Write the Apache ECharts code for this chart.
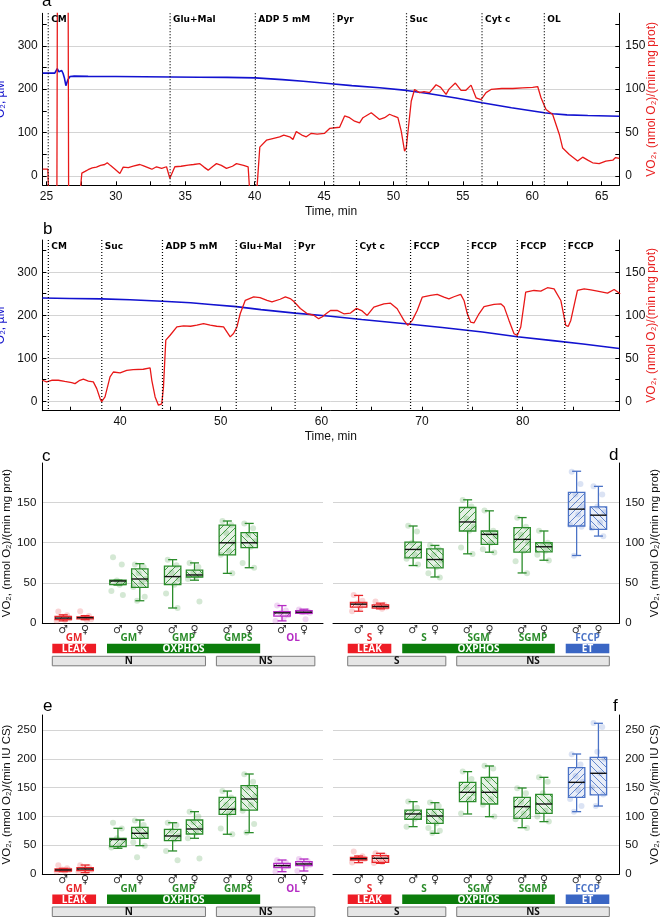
<!DOCTYPE html>
<html><head><meta charset="utf-8"><title>Respirometry</title>
<script src="https://cdn.jsdelivr.net/npm/echarts@6.0.0/dist/echarts.min.js"></script>
<style>html,body{margin:0;padding:0;background:#fff;}#chart{width:660px;height:917px;}</style>
</head><body><div id="chart"></div>
<script>
// ---------------- Panel a : trace ----------------
const aEventTimes = [25.13, 33.91, 40.05, 45.69, 50.94, 56.38, 60.87];
const aEventLabels = ['CM', 'Glu+Mal', 'ADP 5 mM', 'Pyr', 'Suc', 'Cyt c', 'OL'];
const aO2 = [[24.73,237],[25.6,237],[25.78,247],[25.9,240],[26.0,238],[26.1,243],[26.2,236],[26.3,225],[26.4,208],[26.55,222],[26.7,229],[27.0,230],[28,229.5],[30,229],[32,228.5],[34,228],[36,227.5],[38,227],[40.05,226],[42,222],[43.5,218],[45.3,213],[47,208],[49,203],[50.94,197],[52.5,190],[54.5,179.5],[56.38,168.5],[58.5,157],[60.87,145.5],[61.5,143],[62.5,140.5],[64,139],[66.27,137.5]];
const aVO2 = [[24.73,7.7],[25.1,7.7],[25.2,-40],[25.75,-40],[25.8,300],[26.55,300],[26.6,-40],[27.3,-40],[27.55,3],[27.78,5],[28.0,7],[28.3,9],[28.6,10],[28.9,12],[29.2,13],[29.38,15],[29.6,12],[29.9,8],[30.29,2.7],[30.53,10],[30.9,9.5],[31.25,11],[31.73,13],[32.0,11.5],[32.45,8.5],[32.6,7.5],[32.93,10.4],[33.3,8.5],[33.65,10.4],[33.89,-3],[34.25,10.4],[34.7,11],[35.21,12.3],[35.6,13],[36.05,14],[36.35,10],[36.65,6.5],[37.0,11],[37.25,14],[37.6,12],[37.97,8.5],[38.4,11],[38.69,14],[39.2,12],[39.53,10.4],[39.69,-30],[40.1,-30],[40.37,33],[40.85,41],[41.3,43],[41.8,45],[42.1,47],[42.52,45],[42.76,42],[43.0,51],[43.4,47],[43.72,45],[44.08,49],[44.5,48],[45.04,49],[45.4,54.6],[46.12,56],[46.48,69],[46.84,67],[47.2,63],[47.56,61],[47.8,67],[48.4,72.7],[49.0,65],[49.36,67],[49.72,71],[50.0,69],[50.32,67],[50.56,51.5],[50.8,28.5],[50.92,32],[51.28,86],[51.52,99.6],[51.87,96],[52.2,97],[52.6,96],[53.07,105],[53.4,102],[53.79,94],[54.0,100],[54.46,107],[54.87,98.5],[55.2,98.5],[55.59,104.6],[55.95,90],[56.31,88],[56.67,96],[57.03,99.6],[57.8,100.7],[58.59,100.7],[59.3,101.5],[60.03,102],[60.39,103],[60.63,90],[60.99,76.5],[61.47,70.8],[61.95,47.7],[62.19,32],[62.67,24.6],[63.27,17],[63.63,21.5],[64.0,18],[64.35,15],[64.82,14],[65.3,17],[65.8,18],[66.0,21],[66.27,20]];
const aTimeTicks = [25,27.5,30,32.5,35,37.5,40,42.5,45,47.5,50,52.5,55,57.5,60,62.5,65];
const aTimeLabels = [25,30,35,40,45,50,55,60,65];

// ---------------- Panel b : trace ----------------
const bEventTimes = [32.87, 38.18, 44.21, 51.54, 57.39, 63.49, 68.86, 74.56, 79.47, 84.18];
const bEventLabels = ['CM', 'Suc', 'ADP 5 mM', 'Glu+Mal', 'Pyr', 'Cyt c', 'FCCP', 'FCCP', 'FCCP', 'FCCP'];
const bO2 = [[32.27,240],[35,239],[38.17,238],[41,236],[44.21,232.5],[47,229],[49,225],[51.54,220],[54,213],[57.38,205],[60.9,197.7],[64,190],[68.86,179],[72,171.5],[76,161],[79.47,150],[83,141],[86,133],[89.6,122.5]];
const bVO2 = [[32.27,24.4],[32.7,22.5],[33.2,24.4],[33.86,24.4],[34.5,23],[35.19,21.7],[35.52,20.5],[36.0,24.4],[36.35,25.6],[36.85,23.5],[37.34,22.5],[37.68,14.7],[38.01,3.1],[38.17,-0.4],[38.5,5],[39.0,28.3],[39.33,34],[40.0,33],[40.66,36],[41.3,36.8],[42.3,37.2],[42.98,38.8],[43.15,24.4],[43.48,5],[43.81,-4.6],[44.14,-3],[44.31,16.7],[44.54,71],[44.97,76.7],[45.64,86.4],[46.3,87.6],[47.0,87.2],[47.63,88.4],[48.29,90.3],[48.95,88.4],[49.6,87.2],[50.28,86.4],[50.61,80.6],[50.94,74.8],[51.27,78.7],[51.61,86.4],[51.94,102],[52.44,117.4],[53.27,121.3],[53.9,120.5],[54.6,117.4],[55.09,115.5],[55.9,118.6],[56.42,121.3],[56.9,119.4],[57.24,116.3],[57.91,107.8],[58.57,102],[59.24,100],[59.73,96],[60.06,98],[60.56,102.7],[60.9,105.5],[61.56,105.6],[62.23,101.7],[62.89,102.5],[63.49,108],[64.05,105],[64.55,99.8],[65.21,109.5],[66.21,113.3],[66.87,114],[67.53,107.5],[68.2,94],[68.59,88.2],[69.03,94],[69.52,105.6],[70.02,121],[70.85,123],[71.51,124.2],[72.18,121],[72.67,119],[73.17,121.5],[73.84,124.2],[74.17,117.2],[74.5,101.7],[74.83,92],[75.16,91],[75.66,101.7],[76.16,110],[77.15,112.6],[77.82,113.3],[78.15,110],[78.64,94],[79.14,78.5],[79.47,76.6],[79.81,86.3],[80.3,126.9],[81.13,128.8],[81.8,128],[82.46,132],[83.12,130.7],[83.79,117.2],[84.28,88.2],[84.52,87],[84.78,94],[85.44,128.8],[86.11,130.7],[86.77,129.5],[87.43,128],[88.43,125.7],[89.09,130],[89.69,125]];
const bTimeTicks = [35,40,45,50,55,60,65,70,75,80,85];
const bTimeLabels = [40,50,60,70,80];

const o2Labels = [0,100,200,300];
const o2MinorTicks = [50,150,250,350];
const vo2Labels = [0,50,100,150];
const vo2Ticks = [0,25,50,75,100,125,150,175];

// ---------------- Box panels ----------------
const cGroups = ['GM','GM','GMP','GMPS','OL'];
const dGroups = ['S','S','SGM','SGMP','FCCP'];
const cStates = [['LEAK',1,1],['OXPHOS',2,4]];
const dStates = [['LEAK',1,1],['OXPHOS',2,4],['ET',5,5]];
const cPaths = [['N',1,3],['NS',4,5]];
const dPaths = [['S',1,2],['NS',3,5]];
const sexSymbols = ['♂','♀'];
const protLabels = [0,50,100,150];
const csLabels = [0,50,100,150,200,250];

// [min, Q1, median, Q3, max]
const cMale   = [[3,4.5,6.5,8.5,10.5],[47.5,48,52.5,53.5,53.5],[19,48,58,71,79],[62,85,100,122,127],[3,9,13,14.5,22]];
const cFemale = [[4.5,5.5,7,8,9.5],[28,44.5,55,67.5,74],[53.5,57.5,60,66,75],[69,94,100,112.5,124],[12,12.5,13.75,15.8,17.5]];
const dMale   = [[15,20,23.75,25.8,34.6],[71.7,81.25,91.7,100.8,120.8],[86.25,114.6,125.8,143.75,153.3],[62.5,88.3,104.2,118.75,131.25],[84.2,120.8,141.7,162.5,188.75]];
const dFemale = [[17.9,18.75,20.8,22.9,25],[57.5,68.75,79.2,92.5,96.7],[88.3,97.9,110.4,114.6,139.6],[78.3,88.75,95,100,114.6],[108.3,116.7,134.2,144.6,170]];
const eMale   = [[4,5.2,7,8.7,9.8],[44.6,47.5,60,62,79.3],[40,58,66,77.5,89],[69,103.6,112.3,133,144],[4,11,14.5,18.5,24.3]];
const eFemale = [[2.3,5.8,8.7,11,15.6],[49.2,62,70.6,81,93.75],[62,69.4,78.1,93.75,108.2],[71.8,111,130.2,153.4,173.6],[5.2,14.5,17.4,21.4,26]];
const fMale   = [[19.7,24.3,26.6,28.9,31.25],[82.2,95,104.2,111,125.6],[104.2,125.6,141.8,159.1,177.7],[80.4,96.6,116.9,133.1,149.3],[108.2,133.1,159.1,184.6,208.3]];
const fFemale = [[18.5,20.25,27.2,31.8,35.9],[70.6,88,100.7,112.3,123.8],[99.5,121.5,141.8,167.8,187.5],[90.9,105.3,121.5,138.3,167.8],[118,137.2,174.8,202.5,261.6]];

// individual observations
const cMalePts   = [[14.5,10,8,6,4,3],[82,73,53,50,48,40,35],[79,72,63,55,48,37,19],[127,122,112,100,90,85,62],[22,16,13,10,7,3]];
const cFemalePts = [[15,9,7,5,4],[73,70,62,55,50,45,33,28],[75,70,63,60,58,55,27],[124,118,110,102,95,75,69],[17,15,14,13,5]];
const dMalePts   = [[35,28,25,23,20,15],[121,114,100,93,85,80,73],[153,145,130,120,115,94,86],[131,120,110,100,90,77,62],[188,173,160,145,135,122,120,84]];
const dFemalePts = [[27,23,21,20,18],[97,92,85,78,70,62,57],[140,115,112,108,100,92,88],[115,100,97,95,90,85,78],[170,160,145,138,125,118,108]];
const eMalePts   = [[15,10,8,7,5,4],[89,79,62,58,50,46],[89,85,75,66,60,40,24],[144,133,120,112,105,79,69],[24,20,16,14,11,4]];
const eFemalePts = [[15,12,9,7,5,3],[93,85,78,70,65,55,49,29],[108,100,90,80,72,62,27],[173,160,150,135,120,110,87,72],[26,22,18,16,13,5]];
const fMalePts   = [[39,31,28,26,24,20],[126,115,108,102,96,82],[178,165,150,140,130,105],[149,140,125,115,105,95,80],[208,190,170,160,145,130,118,108]];
const fFemalePts = [[36,32,28,25,21,19],[124,118,105,98,88,80,75,71],[188,183,165,145,130,120,100],[168,160,140,125,110,100,91],[262,255,212,200,175,150,138,118]];

// ---------------- styling ----------------
const FONT = '"Liberation Sans", Arial, sans-serif';
const RED = '#e8262b', GREEN = '#2a8c2a', PURPLE = '#b52cc4', BLUE = '#4a72c6';
const cColors = [RED, GREEN, GREEN, GREEN, PURPLE];
const dColors = [RED, GREEN, GREEN, GREEN, BLUE];
const stateColors = {LEAK: '#ee1c25', OXPHOS: '#0b7d0b', ET: '#3a66c4'};
const SEX_OFF = [-0.2, 0.2];
const JIT = [-0.09, 0.07, -0.02, 0.11, 0.03, -0.12, 0.09, -0.05];

function rgba(hex, a) {
  const n = parseInt(hex.slice(1), 16);
  return 'rgba(' + ((n >> 16) & 255) + ',' + ((n >> 8) & 255) + ',' + (n & 255) + ',' + a + ')';
}
const patCache = {};
function hatch(color, dir) {
  const key = color + dir;
  if (patCache[key]) return patCache[key];
  const s = 7, cv = document.createElement('canvas');
  cv.width = s; cv.height = s;
  const g = cv.getContext('2d');
  g.strokeStyle = color; g.lineWidth = 1; g.globalAlpha = 0.85;
  g.beginPath();
  if (dir === '/') {
    g.moveTo(-1, s + 1); g.lineTo(s + 1, -1);
    g.moveTo(-1, 1); g.lineTo(1, -1);
    g.moveTo(s - 1, s + 1); g.lineTo(s + 1, s - 1);
  } else {
    g.moveTo(-1, -1); g.lineTo(s + 1, s + 1);
    g.moveTo(-1, s - 1); g.lineTo(1, s + 1);
    g.moveTo(s - 1, -1); g.lineTo(s + 1, 1);
  }
  g.stroke();
  patCache[key] = {image: cv, repeat: 'repeat'};
  return patCache[key];
}

const grids = [
  {left: 42.7, top: 13.3, width: 576.6, height: 172},
  {left: 42.3, top: 240, width: 577, height: 170.7},
  {left: 42.3, top: 463, width: 280.7, height: 160.3},
  {left: 333, top: 463, width: 286.3, height: 160.3},
  {left: 42.3, top: 715, width: 280.7, height: 159},
  {left: 333, top: 715, width: 286.3, height: 159}
].map(g => Object.assign({containLabel: false, outerBoundsMode: 'none'}, g));

const axisLineBlack = {show: true, onZero: false, lineStyle: {color: '#000', width: 1}};
const labelStyle = {color: '#111', fontSize: 12, fontFamily: FONT};

function timeXAxis(gi, min, max, ticks, labels) {
  return {type: 'value', gridIndex: gi, min, max,
    axisLine: axisLineBlack,
    axisTick: {show: true, inside: true, length: 4, customValues: ticks, lineStyle: {color: '#000'}},
    axisLabel: Object.assign({show: true, customValues: labels, margin: 5}, labelStyle),
    splitLine: {show: false},
    name: 'Time, min', nameLocation: 'middle', nameGap: 20,
    nameTextStyle: {color: '#111', fontSize: 12, fontFamily: FONT}};
}
function o2Axis(gi) {
  return {type: 'value', gridIndex: gi, min: -22, max: 375, position: 'left',
    axisLine: axisLineBlack,
    axisTick: {show: true, inside: true, length: 4, customValues: o2Labels, lineStyle: {color: '#000'}},
    axisLabel: Object.assign({customValues: o2Labels, margin: 5}, labelStyle),
    splitLine: {show: true, lineStyle: {color: '#d4d4d4', width: 1}},
    name: 'O₂, µM', nameLocation: 'middle', nameGap: 30, nameRotate: 90,
    nameTextStyle: {color: '#1515cc', fontSize: 12, fontFamily: FONT}};
}
function o2MinorAxis(gi) {
  return {type: 'value', gridIndex: gi, min: -22, max: 375, position: 'left',
    axisLine: {show: false},
    axisTick: {show: true, inside: true, length: 4, customValues: o2MinorTicks, lineStyle: {color: '#000'}},
    axisLabel: {show: false}, splitLine: {show: false}};
}
function vo2Axis(gi) {
  return {type: 'value', gridIndex: gi, min: -11, max: 187.5, position: 'right',
    axisLine: axisLineBlack,
    axisTick: {show: true, inside: true, length: 4, customValues: vo2Ticks, lineStyle: {color: '#000'}},
    axisLabel: Object.assign({customValues: vo2Labels, margin: 6}, labelStyle),
    splitLine: {show: false},
    name: 'VO₂, (nmol O₂)/(min mg prot)', nameLocation: 'middle', nameGap: 26, nameRotate: 90,
    nameMoveOverlap: false,
    nameTextStyle: {color: '#e82020', fontSize: 12, fontFamily: FONT}};
}
function boxXAxis(gi, min, max) {
  return {type: 'value', gridIndex: gi, min, max,
    axisLine: {show: true, onZero: false, lineStyle: {color: '#000', width: 1}},
    axisTick: {show: false}, axisLabel: {show: false}, splitLine: {show: false}};
}
function boxYAxis(gi, max, labels, pos, name) {
  return {type: 'value', gridIndex: gi, min: 0, max, position: pos,
    axisLine: axisLineBlack,
    axisTick: {show: false, customValues: labels},
    axisLabel: Object.assign({customValues: labels, margin: 6}, labelStyle, {fontSize: 11.5}),
    splitLine: {show: true, lineStyle: {color: '#d4d4d4', width: 1}},
    name, nameLocation: 'middle', nameGap: pos === 'left' ? 29 : 27, nameRotate: 90,
    nameTextStyle: {color: '#111', fontSize: 11.5, fontFamily: FONT}};
}

const xAxes = [
  timeXAxis(0, 24.73, 66.27, aTimeTicks, aTimeLabels),
  timeXAxis(1, 32.27, 89.6, bTimeTicks, bTimeLabels),
  boxXAxis(2, 0.417, 5.549), boxXAxis(3, 0.33, 5.583),
  boxXAxis(4, 0.417, 5.549), boxXAxis(5, 0.33, 5.583)
];
const yAxes = [
  o2Axis(0), vo2Axis(0), o2MinorAxis(0),
  o2Axis(1), vo2Axis(1), o2MinorAxis(1),
  boxYAxis(2, 199, protLabels, 'left', 'VO₂, (nmol O₂)/(min mg prot)'),
  boxYAxis(3, 199, protLabels, 'right', 'VO₂, (nmol O₂)/(min mg prot)'),
  boxYAxis(4, 276, csLabels, 'left', 'VO₂, (nmol O₂)/(min IU CS)'),
  boxYAxis(5, 276, csLabels, 'right', 'VO₂, (nmol O₂)/(min IU CS)')
];

const series = [];
function traceSeries(xi, yO2, yVO2, o2, vo2, evT, evL) {
  series.push({type: 'line', xAxisIndex: xi, yAxisIndex: yO2, data: o2, showSymbol: false, silent: true,
    lineStyle: {color: '#1212d0', width: 1.6}, z: 3});
  series.push({type: 'line', xAxisIndex: xi, yAxisIndex: yVO2, data: vo2, showSymbol: false, silent: true,
    lineStyle: {color: '#e81818', width: 1.3}, z: 4});
  series.push({type: 'custom', xAxisIndex: xi, yAxisIndex: yO2, silent: true, clip: false, z: 5,
    data: evT.map(t => [t, 0]),
    renderItem(params, api) {
      const t = api.value(0);
      const top = api.coord([t, 375]), bot = api.coord([t, -22]);
      return {type: 'group', children: [
        {type: 'line', shape: {x1: top[0], y1: top[1], x2: bot[0], y2: bot[1]},
          style: {stroke: '#000', lineWidth: 1.2, lineDash: [1, 2]}},
        {type: 'text', x: top[0] + 3, y: top[1] + 2,
          style: {text: evL[params.dataIndex], fill: '#000', font: 'bold 9px "DejaVu Sans", sans-serif', align: 'left', verticalAlign: 'top'}}
      ]};
    }});
}
traceSeries(0, 0, 1, aO2, aVO2, aEventTimes, aEventLabels);
traceSeries(1, 3, 4, bO2, bVO2, bEventTimes, bEventLabels);

function boxPanel(ax, ay, male, female, malePts, femalePts, colors, groups, states, paths) {
  [[male, malePts, 0, '/'], [female, femalePts, 1, '\\']].forEach(([stats, pts, s, dir]) => {
    const pdata = [];
    pts.forEach((arr, i) => arr.forEach((v, j) => pdata.push([i + 1 + SEX_OFF[s] + JIT[j % JIT.length], v, i])));
    series.push({type: 'scatter', xAxisIndex: ax, yAxisIndex: ay, data: pdata, symbolSize: 6, silent: true, z: 2,
      itemStyle: {color: p => rgba(colors[p.value[2]], 0.25)}});
    series.push({type: 'custom', xAxisIndex: ax, yAxisIndex: ay, silent: true, clip: false, z: 3,
      data: stats.map((b, i) => [i + 1 + SEX_OFF[s]].concat(b)),
      renderItem(params, api) {
        const col = colors[params.dataIndex];
        const x = api.value(0);
        const p = [1, 2, 3, 4, 5].map(k => api.coord([x, api.value(k)]));
        const cx = p[0][0], hw = 8.2, cw = 4.5;
        const ls = {stroke: col, lineWidth: 1.3};
        return {type: 'group', children: [
          {type: 'line', shape: {x1: cx, y1: p[3][1], x2: cx, y2: p[4][1]}, style: ls},
          {type: 'line', shape: {x1: cx, y1: p[1][1], x2: cx, y2: p[0][1]}, style: ls},
          {type: 'line', shape: {x1: cx - cw, y1: p[4][1], x2: cx + cw, y2: p[4][1]}, style: ls},
          {type: 'line', shape: {x1: cx - cw, y1: p[0][1], x2: cx + cw, y2: p[0][1]}, style: ls},
          {type: 'rect', shape: {x: cx - hw, y: p[3][1], width: 2 * hw, height: p[1][1] - p[3][1]},
            style: {fill: rgba(col, 0.12)}},
          {type: 'rect', shape: {x: cx - hw, y: p[3][1], width: 2 * hw, height: p[1][1] - p[3][1]},
            style: {fill: hatch(col, dir), stroke: col, lineWidth: 1.3}},
          {type: 'line', shape: {x1: cx - hw, y1: p[2][1], x2: cx + hw, y2: p[2][1]}, style: {stroke: '#111', lineWidth: 1.4}}
        ]};
      }});
  });
  // annotation rows under the axis
  const items = [];
  groups.forEach((g, i) => {
    items.push({k: 'sex', x: i + 1 + SEX_OFF[0], t: sexSymbols[0]});
    items.push({k: 'sex', x: i + 1 + SEX_OFF[1], t: sexSymbols[1]});
    items.push({k: 'lab', x: i + 1, t: g, c: colors[i]});
  });
  states.forEach(s => items.push({k: 'state', x: s[1] - 0.4, x2: s[2] + 0.4, t: s[0], c: stateColors[s[0]]}));
  paths.forEach(s => items.push({k: 'path', x: s[1] - 0.4, x2: s[2] + 0.4, t: s[0]}));
  series.push({type: 'custom', xAxisIndex: ax, yAxisIndex: ay, silent: true, clip: false, z: 6,
    data: items.map(it => [it.x, 0]),
    renderItem(params, api) {
      const it = items[params.dataIndex];
      const p = api.coord([it.x, 0]);
      const y0 = p[1];
      if (it.k === 'sex') {
        return {type: 'text', x: p[0], y: y0 + 6.5,
          style: {text: it.t, fill: '#333', font: '11px "DejaVu Sans", sans-serif', align: 'center', verticalAlign: 'middle'}};
      }
      if (it.k === 'lab') {
        return {type: 'text', x: p[0], y: y0 + 15,
          style: {text: it.t, fill: it.c, font: 'bold 10px "Open Sans", sans-serif', align: 'center', verticalAlign: 'middle'}};
      }
      const p2 = api.coord([it.x2, 0]);
      const top = it.k === 'state' ? y0 + 20.5 : y0 + 33;
      const h = 9.5;
      const rectStyle = it.k === 'state' ? {fill: it.c} : {fill: '#e6e6e6', stroke: '#7a7a7a', lineWidth: 1};
      return {type: 'group', children: [
        {type: 'rect', shape: {x: p[0], y: top, width: p2[0] - p[0], height: h}, style: rectStyle},
        {type: 'text', x: (p[0] + p2[0]) / 2, y: top + h / 2 + 0.5,
          style: {text: it.t, fill: it.k === 'state' ? '#fff' : '#111', font: 'bold 10px "Open Sans", sans-serif', align: 'center', verticalAlign: 'middle'}}
      ]};
    }});
}
boxPanel(2, 6, cMale, cFemale, cMalePts, cFemalePts, cColors, cGroups, cStates, cPaths);
boxPanel(3, 7, dMale, dFemale, dMalePts, dFemalePts, dColors, dGroups, dStates, dPaths);
boxPanel(4, 8, eMale, eFemale, eMalePts, eFemalePts, cColors, cGroups, cStates, cPaths);
boxPanel(5, 9, fMale, fFemale, fMalePts, fFemalePts, dColors, dGroups, dStates, dPaths);

const letterFont = '17px "Liberation Sans", Arial, sans-serif';
const letters = [['a', 42, -7], ['b', 43, 220.5], ['c', 42, 447.5], ['d', 609, 446.5], ['e', 43, 697.5], ['f', 613, 697.5]];

const chart = echarts.init(document.getElementById('chart'), null, {renderer: 'canvas'});
chart.setOption({
  animation: false,
  backgroundColor: '#fff',
  textStyle: {fontFamily: FONT},
  grid: grids,
  xAxis: xAxes,
  yAxis: yAxes,
  series,
  graphic: letters.map(l => ({type: 'text', x: l[1], y: l[2], silent: true,
    style: {text: l[0], font: letterFont, fill: '#000', verticalAlign: 'top'}}))
});
</script></body></html>
